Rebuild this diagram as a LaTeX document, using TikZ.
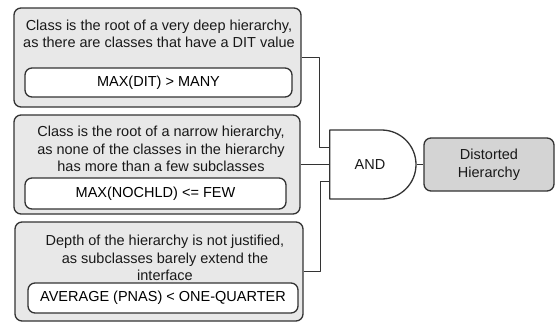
\documentclass[tikz,border=0pt]{standalone}
\usepackage{fontspec}
\setmainfont{Liberation Sans}
\usetikzlibrary{positioning,shapes.gates.logic.US}
\definecolor{boxgray}{HTML}{E8E8E8}
\definecolor{resgray}{HTML}{D4D4D4}
\definecolor{edge}{HTML}{333333}
\begin{document}
\begin{tikzpicture}[x=1pt,y=-1pt,font=\fontsize{14.5}{17.5}\selectfont,line join=round,
	cond/.style={draw=edge,line width=1.3pt,rounded corners=7pt,fill=boxgray,inner sep=0pt},
	metric/.style={draw=edge,line width=1.3pt,rounded corners=7pt,fill=white,inner sep=0pt},
	desc/.style={align=center,inner sep=0pt,text=black!90},
	wire/.style={draw=edge,line width=1.3pt}]
	\useasboundingbox (0,0) rectangle (555,322);
	% the three conditions
	\node[cond,minimum width=287,minimum height=99] (c1) at (157.5,57.5) {};
	\node[desc] (t1) at (159,34) {Class is the root of a very deep hierarchy,\\as there are classes that have a DIT value};
	\node[metric,minimum width=267,minimum height=29] (m1) at (158.5,82.5) {MAX(DIT) > MANY};
	\node[cond,minimum width=286,minimum height=99] (c2) at (157,164.5) {};
	\node[desc] (t2) at (161,149) {Class is the root of a narrow hierarchy,\\as none of the classes in the hierarchy\\has more than a few subclasses};
	\node[metric,minimum width=261,minimum height=31] (m2) at (155.5,193.5) {MAX(NOCHLD) <= FEW};
	\node[cond,minimum width=288,minimum height=99] (c3) at (159,271.5) {};
	\node[desc] (t3) at (165,258) {Depth of the hierarchy is not justified,\\as subclasses barely extend the\\interface};
	\node[metric,minimum width=270,minimum height=30] (m3) at (163,298) {AVERAGE (PNAS) < ONE-QUARTER};
	% gate and result
	\node[and gate US,draw=edge,line width=1.3pt,logic gate inputs=nnn,minimum width=70,minimum height=69,text=black!90] (gate) at (370,164.5) {AND};
	\node[cond,fill=resgray,minimum width=130,minimum height=53,align=center,text=black!90] (res) at (489,164.5) {Distorted\\Hierarchy};
	\draw[wire] (c1.east) -- ++(18,0) |- (gate.input 1);
	\draw[wire] (c2.east) -- (gate.input 2);
	\draw[wire] (c3.east) -- ++(17,0) |- (gate.input 3);
	\draw[wire] (gate.output) -- (res);
\end{tikzpicture}
\end{document}
